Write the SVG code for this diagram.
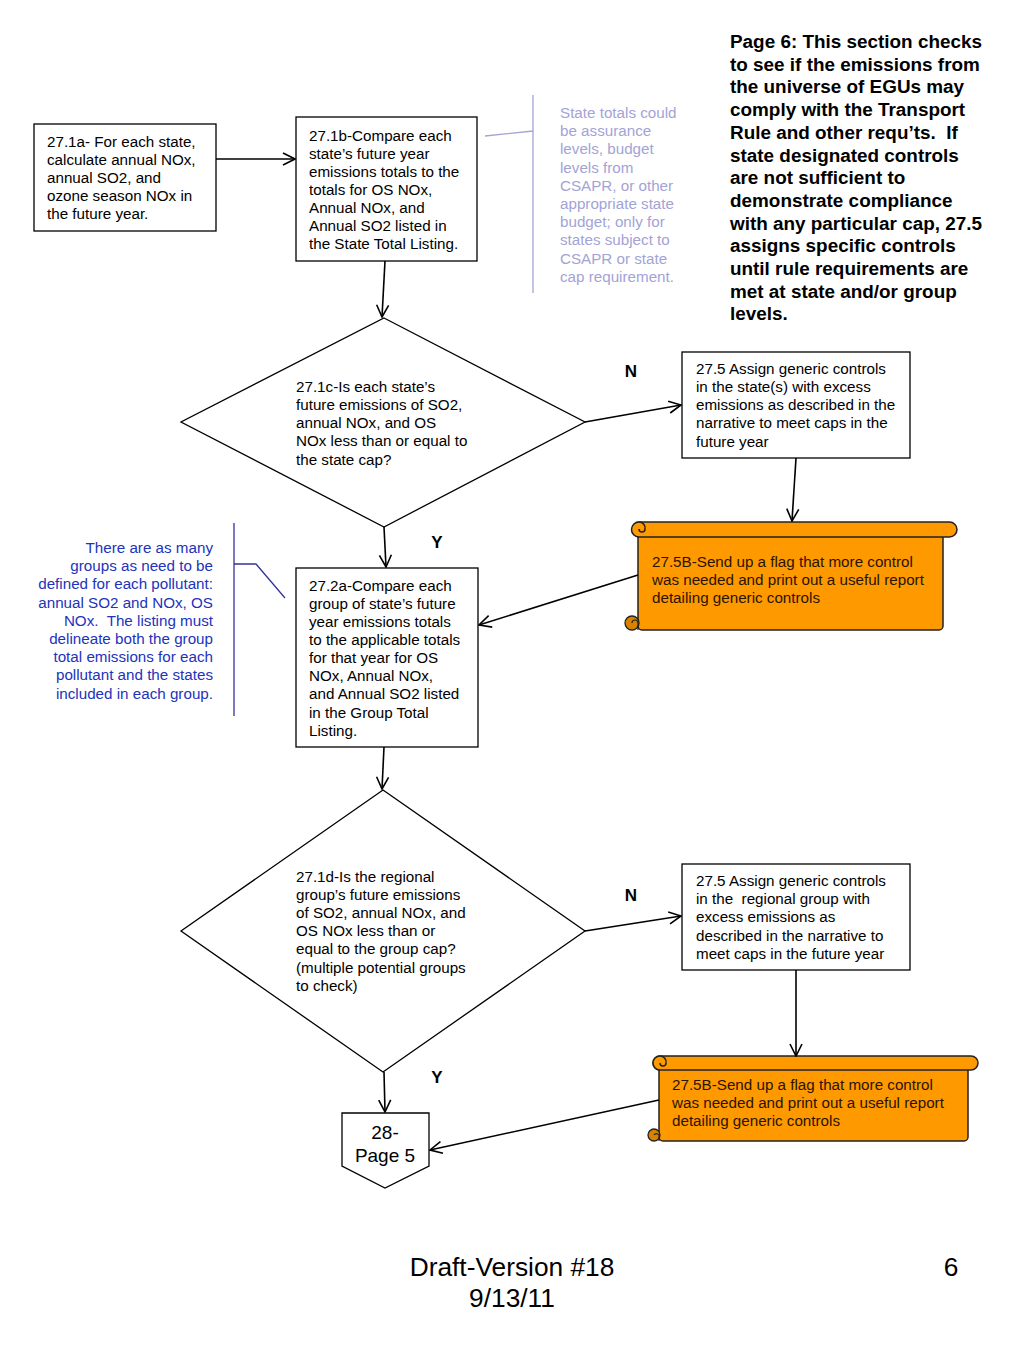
<svg xmlns="http://www.w3.org/2000/svg" width="1024" height="1365" viewBox="0 0 1024 1365">
<style>
.box{fill:#fff;stroke:#000;stroke-width:1.3}
.t{font-family:"Liberation Sans",Arial,sans-serif;font-size:15.2px;fill:#000}
.hd{font-family:"Liberation Sans",Arial,sans-serif;font-size:18.9px;font-weight:bold;fill:#000}
.lav{font-family:"Liberation Sans",Arial,sans-serif;font-size:15.2px;fill:#a3a3d6}
.blu{font-family:"Liberation Sans",Arial,sans-serif;font-size:15.2px;fill:#2233bb;text-anchor:end}
.lbl{font-family:"Liberation Sans",Arial,sans-serif;font-size:17px;font-weight:bold;fill:#000}
.ft{font-family:"Liberation Sans",Arial,sans-serif;font-size:26.3px;fill:#000}
.scr{fill:#ff9900;stroke:#222;stroke-width:1.5}
.scrc{fill:#d98200;stroke:#222;stroke-width:1.3}
.st{font-family:"Liberation Sans",Arial,sans-serif;font-size:15.2px;fill:#2a1400}
.con{stroke:#000;stroke-width:1.6;fill:none}
</style>
<defs>
<marker id="ah" viewBox="0 0 14 14" refX="13" refY="7" markerWidth="14" markerHeight="14" markerUnits="userSpaceOnUse" orient="auto">
<path d="M1,1 L13,7 L1,13" fill="none" stroke="#000" stroke-width="1.6"/>
</marker>
</defs>

<g id="header">
<text class="hd" x="730" y="48">Page 6: This section checks</text>
<text class="hd" x="730" y="70.7">to see if the emissions from</text>
<text class="hd" x="730" y="93.4">the universe of EGUs may</text>
<text class="hd" x="730" y="116.1">comply with the Transport</text>
<text class="hd" x="730" y="138.8">Rule and other requ’ts.&#160; If</text>
<text class="hd" x="730" y="161.5">state designated controls</text>
<text class="hd" x="730" y="184.2">are not sufficient to</text>
<text class="hd" x="730" y="206.9">demonstrate compliance</text>
<text class="hd" x="730" y="229.6">with any particular cap, 27.5</text>
<text class="hd" x="730" y="252.3">assigns specific controls</text>
<text class="hd" x="730" y="275">until rule requirements are</text>
<text class="hd" x="730" y="297.7">met at state and/or group</text>
<text class="hd" x="730" y="320.4">levels.</text>
</g>

<g id="n271a">
<rect class="box" x="34" y="124" width="182" height="107"/>
<text class="t" x="47" y="147">27.1a- For each state,</text>
<text class="t" x="47" y="165">calculate annual NOx,</text>
<text class="t" x="47" y="183">annual SO2, and</text>
<text class="t" x="47" y="201">ozone season NOx in</text>
<text class="t" x="47" y="219">the future year.</text>
</g>

<g id="n271b">
<rect class="box" x="296" y="117" width="181" height="144"/>
<text class="t" x="309" y="141">27.1b-Compare each</text>
<text class="t" x="309" y="159">state’s future year</text>
<text class="t" x="309" y="177">emissions totals to the</text>
<text class="t" x="309" y="195">totals for OS NOx,</text>
<text class="t" x="309" y="213">Annual NOx, and</text>
<text class="t" x="309" y="231">Annual SO2 listed in</text>
<text class="t" x="309" y="249">the State Total Listing.</text>
</g>

<g id="note1">
<path d="M485,136 L533,131 M533,95 L533,293" stroke="#a3a3d6" stroke-width="1.3" fill="none"/>
<text class="lav" x="560" y="118">State totals could</text>
<text class="lav" x="560" y="136.2">be assurance</text>
<text class="lav" x="560" y="154.4">levels, budget</text>
<text class="lav" x="560" y="172.6">levels from</text>
<text class="lav" x="560" y="190.8">CSAPR, or other</text>
<text class="lav" x="560" y="209">appropriate state</text>
<text class="lav" x="560" y="227.2">budget; only for</text>
<text class="lav" x="560" y="245.4">states subject to</text>
<text class="lav" x="560" y="263.6">CSAPR or state</text>
<text class="lav" x="560" y="281.8">cap requirement.</text>
</g>

<g id="d271c">
<polygon class="box" points="384,318 585,422 384,527 181,422"/>
<text class="t" x="296" y="392">27.1c-Is each state’s</text>
<text class="t" x="296" y="410">future emissions of SO2,</text>
<text class="t" x="296" y="428">annual NOx, and OS</text>
<text class="t" x="296" y="446">NOx less than or equal to</text>
<text class="t" x="296" y="465">the state cap?</text>
</g>

<g id="n275a">
<rect class="box" x="682" y="352" width="228" height="106"/>
<text class="t" x="696" y="374">27.5 Assign generic controls</text>
<text class="t" x="696" y="392">in the state(s) with excess</text>
<text class="t" x="696" y="410">emissions as described in the</text>
<text class="t" x="696" y="428">narrative to meet caps in the</text>
<text class="t" x="696" y="447">future year</text>
</g>

<g id="s275b1">
<rect class="scr" x="638" y="528" width="305" height="102" rx="4"/>
<rect class="scr" x="632" y="522" width="325" height="15" rx="7.5"/>
<path class="scr" d="M639,537 A7,7 0 0 1 639,522 A6,6 0 0 1 645,529 A3,3 0 0 1 639,529"/>
<circle class="scrc" cx="632" cy="623" r="7"/>
<path d="M632,623 A3,3 0 0 1 638,623 L638,630" fill="none" stroke="#222" stroke-width="1.2"/>
<text class="st" x="652" y="567">27.5B-Send up a flag that more control</text>
<text class="st" x="652" y="585">was needed and print out a useful report</text>
<text class="st" x="652" y="603">detailing generic controls</text>
</g>

<g id="note2">
<path d="M234,523 L234,716 M234,564 L256,564 L285,598" stroke="#333399" stroke-width="1.3" fill="none"/>
<text class="blu" x="213" y="553">There are as many</text>
<text class="blu" x="213" y="571.2">groups as need to be</text>
<text class="blu" x="213" y="589.4">defined for each pollutant:</text>
<text class="blu" x="213" y="607.6">annual SO2 and NOx, OS</text>
<text class="blu" x="213" y="625.8">NOx.&#160; The listing must</text>
<text class="blu" x="213" y="644">delineate both the group</text>
<text class="blu" x="213" y="662.2">total emissions for each</text>
<text class="blu" x="213" y="680.4">pollutant and the states</text>
<text class="blu" x="213" y="698.6">included in each group.</text>
</g>

<g id="n272a">
<rect class="box" x="296" y="568" width="182" height="179"/>
<text class="t" x="309" y="591">27.2a-Compare each</text>
<text class="t" x="309" y="609">group of state’s future</text>
<text class="t" x="309" y="627">year emissions totals</text>
<text class="t" x="309" y="645">to the applicable totals</text>
<text class="t" x="309" y="663">for that year for OS</text>
<text class="t" x="309" y="681">NOx, Annual NOx,</text>
<text class="t" x="309" y="699">and Annual SO2 listed</text>
<text class="t" x="309" y="718">in the Group Total</text>
<text class="t" x="309" y="736">Listing.</text>
</g>

<g id="d271d">
<polygon class="box" points="383,790 585,931 383,1072 181,931"/>
<text class="t" x="296" y="882">27.1d-Is the regional</text>
<text class="t" x="296" y="900">group’s future emissions</text>
<text class="t" x="296" y="918">of SO2, annual NOx, and</text>
<text class="t" x="296" y="936">OS NOx less than or</text>
<text class="t" x="296" y="954">equal to the group cap?</text>
<text class="t" x="296" y="973">(multiple potential groups</text>
<text class="t" x="296" y="991">to check)</text>
</g>

<g id="n275b">
<rect class="box" x="682" y="864" width="228" height="106"/>
<text class="t" x="696" y="886">27.5 Assign generic controls</text>
<text class="t" x="696" y="904">in the&#160; regional group with</text>
<text class="t" x="696" y="922">excess emissions as</text>
<text class="t" x="696" y="941">described in the narrative to</text>
<text class="t" x="696" y="959">meet caps in the future year</text>
</g>

<g id="s275b2">
<rect class="scr" x="659" y="1062" width="309" height="79" rx="4"/>
<rect class="scr" x="653" y="1056" width="325" height="14" rx="7"/>
<path class="scr" d="M660,1070 A7,7 0 0 1 660,1056 A6,6 0 0 1 666,1063 A3,3 0 0 1 660,1063"/>
<circle class="scrc" cx="654" cy="1135" r="6"/>
<path d="M654,1135 A3,3 0 0 1 659,1135 L659,1141" fill="none" stroke="#222" stroke-width="1.2"/>
<text class="st" x="672" y="1090">27.5B-Send up a flag that more control</text>
<text class="st" x="672" y="1108">was needed and print out a useful report</text>
<text class="st" x="672" y="1126">detailing generic controls</text>
</g>

<g id="offpage">
<polygon class="box" points="342,1113 429,1113 429,1166 385,1188 342,1166"/>
<text class="t" x="385" y="1139" style="font-size:19px" text-anchor="middle">28-</text>
<text class="t" x="385" y="1162" style="font-size:19px" text-anchor="middle">Page 5</text>
</g>

<g id="labels">
<text class="lbl" x="631" y="377" text-anchor="middle">N</text>
<text class="lbl" x="437" y="548" text-anchor="middle">Y</text>
<text class="lbl" x="631" y="901" text-anchor="middle">N</text>
<text class="lbl" x="437" y="1083" text-anchor="middle">Y</text>
</g>

<g id="connectors">
<line class="con" x1="216" y1="159" x2="295" y2="159" marker-end="url(#ah)"/>
<line class="con" x1="385" y1="261" x2="382" y2="317" marker-end="url(#ah)"/>
<line class="con" x1="585" y1="422" x2="681" y2="405" marker-end="url(#ah)"/>
<line class="con" x1="796" y1="458" x2="792" y2="521" marker-end="url(#ah)"/>
<line class="con" x1="638" y1="575" x2="479" y2="625" marker-end="url(#ah)"/>
<line class="con" x1="384" y1="527" x2="386" y2="567" marker-end="url(#ah)"/>
<line class="con" x1="384" y1="747" x2="382" y2="789" marker-end="url(#ah)"/>
<line class="con" x1="585" y1="931" x2="681" y2="916" marker-end="url(#ah)"/>
<line class="con" x1="796" y1="970" x2="796" y2="1056" marker-end="url(#ah)"/>
<line class="con" x1="659" y1="1100" x2="430" y2="1150" marker-end="url(#ah)"/>
<line class="con" x1="384" y1="1072" x2="385" y2="1112" marker-end="url(#ah)"/>
</g>

<g id="footer">
<text class="ft" x="512" y="1276" text-anchor="middle">Draft-Version #18</text>
<text class="ft" x="512" y="1307" text-anchor="middle">9/13/11</text>
<text class="ft" x="951" y="1276" text-anchor="middle">6</text>
</g>
</svg>
